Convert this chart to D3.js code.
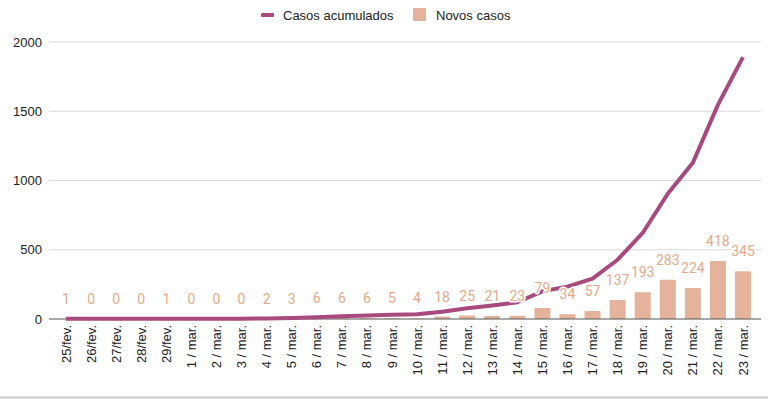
<!DOCTYPE html>
<html>
<head>
<meta charset="utf-8">
<script src="https://cdn.jsdelivr.net/npm/d3@7"></script>
<style>
  html, body { margin: 0; padding: 0; background: #fff; }
  svg { display: block; font-family: "Liberation Sans", Arial, sans-serif; }
</style>
</head>
<body>
<svg id="chart" width="768" height="399"></svg>
<script>
const categories = ["25/fev.","26/fev.","27/fev.","28/fev.","29/fev.",
  "1 / mar.","2 / mar.","3 / mar.","4 / mar.","5 / mar.","6 / mar.","7 / mar.","8 / mar.","9 / mar.",
  "10 / mar.","11 / mar.","12 / mar.","13 / mar.","14 / mar.","15 / mar.","16 / mar.","17 / mar.",
  "18 / mar.","19 / mar.","20 / mar.","21 / mar.","22 / mar.","23 / mar."];
const novosCasos = [1,0,0,0,1,0,0,0,2,3,6,6,6,5,4,18,25,21,23,79,34,57,137,193,283,224,418,345];
const casosAcumulados = [1,1,1,1,2,2,2,2,4,7,13,19,25,30,34,52,77,98,121,200,234,291,428,621,904,1128,1546,1891];
const yTicks = [0,500,1000,1500,2000];
const seriesNames = ["Casos acumulados","Novos casos"];

const lineColor = "#a84a7e";
const barColor = "#e5b39c";
const labelColor = "#e8a98a";
const axisFont = "'Liberation Sans', Arial, sans-serif";

const svg = d3.select("#chart");
const W = 768, H = 399;
const plotLeft = 49, plotRight = 761, plotTop = 42, plotBottom = 319;

const x = d3.scaleBand().domain(categories).range([58, 751]).paddingInner(0.36).paddingOuter(0);
const y = d3.scaleLinear().domain([0, 2000]).range([plotBottom, plotTop]);
const cx = d => x(d) + x.bandwidth() / 2;

// gridlines
svg.append("g").selectAll("line").data(yTicks.filter(t => t !== 0)).join("line")
  .attr("x1", plotLeft).attr("x2", plotRight)
  .attr("y1", d => y(d)).attr("y2", d => y(d))
  .attr("stroke", "#d9d9d9").attr("stroke-width", 1);

// y tick labels via axis
const yAxis = svg.append("g").attr("transform", `translate(${plotLeft},0)`)
  .call(d3.axisLeft(y).tickValues(yTicks).tickSize(0).tickPadding(7).tickFormat(d3.format("d")));
yAxis.select(".domain").remove();
yAxis.selectAll("text").attr("font-size", 13).attr("fill", "#222").attr("font-family", axisFont);

// bars
svg.append("g").selectAll("rect").data(categories).join("rect")
  .attr("x", d => x(d))
  .attr("y", (d, i) => y(novosCasos[i]))
  .attr("width", x.bandwidth())
  .attr("height", (d, i) => plotBottom - y(novosCasos[i]))
  .attr("fill", barColor)
  .attr("rx", 1);

// baseline
svg.append("line").attr("x1", plotLeft).attr("x2", plotRight)
  .attr("y1", plotBottom).attr("y2", plotBottom)
  .attr("stroke", "#555").attr("stroke-width", 1);

// line
const line = d3.line().x((d, i) => cx(categories[i])).y(d => y(d));
svg.append("path").datum(casosAcumulados)
  .attr("d", line).attr("fill", "none")
  .attr("stroke", lineColor).attr("stroke-width", 4)
  .attr("stroke-linejoin", "round").attr("stroke-linecap", "butt");

// bar labels with halo
svg.append("g").selectAll("text").data(categories).join("text")
  .attr("x", d => cx(d))
  .attr("y", (d, i) => y(novosCasos[i]) - 15)
  .attr("text-anchor", "middle")
  .attr("font-size", 14)
  .attr("font-family", "Roboto, sans-serif")
  .attr("fill", labelColor)
  .attr("stroke", "#fff").attr("stroke-width", 3).attr("paint-order", "stroke")
  .attr("stroke-linejoin", "round")
  .text((d, i) => novosCasos[i]);

// x axis labels
const xAxis = svg.append("g").attr("transform", `translate(0,${plotBottom})`)
  .call(d3.axisBottom(x).tickSize(0).tickPadding(0));
xAxis.select(".domain").remove();
xAxis.selectAll("text")
  .attr("transform", "rotate(-90)")
  .attr("text-anchor", "end")
  .attr("x", -6).attr("y", 0).attr("dy", "0.35em")
  .attr("font-size", 13).attr("fill", "#222").attr("font-family", axisFont);

// bottom border
svg.append("line").attr("x1", 0).attr("x2", W).attr("y1", 397.5).attr("y2", 397.5)
  .attr("stroke", "#c8c8c8").attr("stroke-width", 2);

// legend
const legend = svg.append("g").attr("font-family", axisFont);
legend.append("rect").attr("x", 261).attr("y", 13).attr("width", 13).attr("height", 4).attr("fill", lineColor).attr("rx", 1);
legend.append("text").attr("x", 283).attr("y", 15).attr("dy", "0.35em")
  .attr("font-size", 13).attr("fill", "#222").text(seriesNames[0]);
legend.append("rect").attr("x", 413).attr("y", 8).attr("width", 13).attr("height", 13).attr("fill", barColor).attr("rx", 1);
legend.append("text").attr("x", 436).attr("y", 15).attr("dy", "0.35em")
  .attr("font-size", 13).attr("fill", "#222").text(seriesNames[1]);
</script>
</body>
</html>
